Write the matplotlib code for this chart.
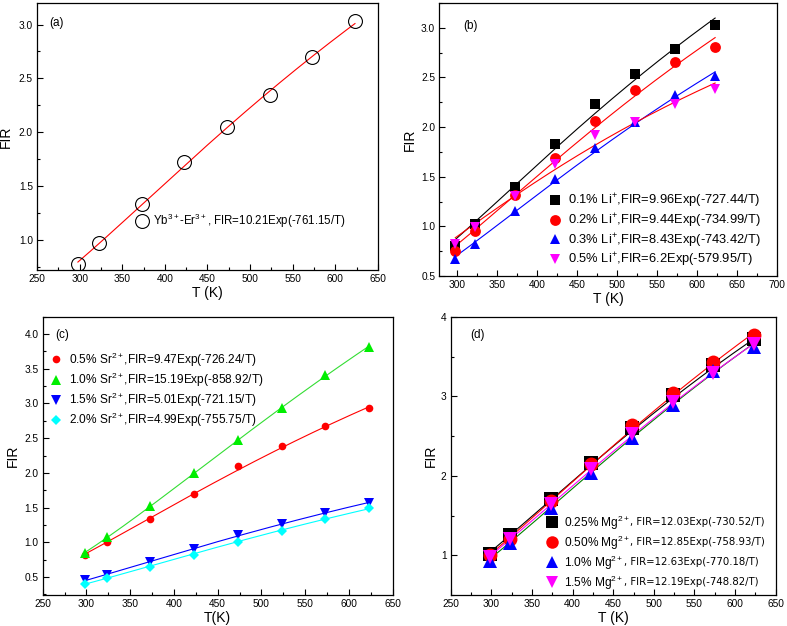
import numpy as np
import matplotlib
matplotlib.use("Agg")
import matplotlib.pyplot as plt
from matplotlib.ticker import MultipleLocator

plt.rcParams['font.family'] = ['Liberation Sans', 'DejaVu Sans']
plt.rcParams['mathtext.fontset'] = 'custom'
plt.rcParams['mathtext.rm'] = 'Liberation Sans'
plt.rcParams['mathtext.it'] = 'Liberation Sans'

# ---------------- data ----------------
T = [298, 323, 373, 423, 473, 523, 573, 623]

# (a)
a_fir = [0.78, 0.97, 1.33, 1.72, 2.05, 2.35, 2.70, 3.03]
a_A, a_B = 10.21, 761.15
a_label = "Yb$^{3+}$-Er$^{3+}$, FIR=10.21Exp(-761.15/T)"

# (b)
b_labels = ["0.1% Li$^{+}$,FIR=9.96Exp(-727.44/T)",
            "0.2% Li$^{+}$,FIR=9.44Exp(-734.99/T)",
            "0.3% Li$^{+}$,FIR=8.43Exp(-743.42/T)",
            "0.5% Li$^{+}$,FIR=6.2Exp(-579.95/T)"]
b_fir = [[0.80, 1.02, 1.40, 1.83, 2.23, 2.53, 2.79, 3.03],
         [0.75, 0.95, 1.32, 1.69, 2.06, 2.37, 2.66, 2.81],
         [0.67, 0.82, 1.15, 1.48, 1.79, 2.05, 2.32, 2.51],
         [0.82, 0.99, 1.31, 1.63, 1.92, 2.05, 2.23, 2.38]]
b_A = [9.96, 9.44, 8.43, 6.2]
b_B = [727.44, 734.99, 743.42, 579.95]

# (c)
c_labels = ["0.5% Sr$^{2+}$,FIR=9.47Exp(-726.24/T)",
            "1.0% Sr$^{2+}$,FIR=15.19Exp(-858.92/T)",
            "1.5% Sr$^{2+}$,FIR=5.01Exp(-721.15/T)",
            "2.0% Sr$^{2+}$,FIR=4.99Exp(-755.75/T)"]
c_fir = [[0.81, 1.00, 1.34, 1.70, 2.10, 2.38, 2.68, 2.93],
         [0.85, 1.07, 1.52, 2.00, 2.48, 2.93, 3.41, 3.82],
         [0.45, 0.53, 0.72, 0.91, 1.10, 1.26, 1.42, 1.57],
         [0.40, 0.48, 0.65, 0.82, 1.00, 1.16, 1.33, 1.49]]
c_A = [9.47, 15.19, 5.01, 4.99]
c_B = [726.24, 858.92, 721.15, 755.75]

# (d)
d_labels = ["0.25% Mg$^{2+}$", "0.50% Mg$^{2+}$", "1.0% Mg$^{2+}$", "1.5% Mg$^{2+}$"]
d_fits = [", FIR=12.03Exp(-730.52/T)", ", FIR=12.85Exp(-758.93/T)",
          ", FIR=12.63Exp(-770.18/T)", ", FIR=12.19Exp(-748.82/T)"]
d_fir = [[1.02, 1.26, 1.71, 2.16, 2.60, 3.02, 3.40, 3.73],
         [1.00, 1.21, 1.68, 2.15, 2.64, 3.05, 3.44, 3.78],
         [0.93, 1.15, 1.59, 2.04, 2.48, 2.89, 3.32, 3.62],
         [0.98, 1.20, 1.65, 2.09, 2.53, 2.93, 3.30, 3.66]]
d_A = [12.03, 12.85, 12.63, 12.19]
d_B = [730.52, 758.93, 770.18, 748.82]

Tf = np.linspace(T[0], T[-1], 200)

def style(ax, xmaj, xmin, ymaj, ymin):
    ax.xaxis.set_major_locator(MultipleLocator(xmaj))
    ax.xaxis.set_minor_locator(MultipleLocator(xmin))
    ax.yaxis.set_major_locator(MultipleLocator(ymaj))
    ax.yaxis.set_minor_locator(MultipleLocator(ymin))
    ax.tick_params(which='both', direction='in', top=False, right=False,
                   labelsize=7.3, pad=3)
    ax.tick_params(which='major', length=4, width=0.8)
    ax.tick_params(which='minor', length=2, width=0.8)
    for s in ax.spines.values():
        s.set_linewidth(0.9)

fig = plt.figure(figsize=(7.87, 6.26), dpi=100)

# ---------- (a) ----------
ax = fig.add_axes([0.047, 0.5687, 0.4333, 0.4265])
ax.plot(Tf, a_A * np.exp(-a_B / Tf), color='red', lw=0.8)
ax.plot(T, a_fir, 'o', mfc='none', mec='black', ms=10, mew=0.8, label=a_label)
ax.set_xlim(250, 650)
ax.set_ylim(0.72, 3.2)
style(ax, 50, 25, 0.5, 0.25)
ax.set_xlabel("T (K)", fontsize=10, labelpad=1)
ax.set_ylabel("FIR", fontsize=10, labelpad=4)
ax.text(0.035, 0.925, "(a)", transform=ax.transAxes, fontsize=8.5, va='center')
ax.legend(loc='center left', bbox_to_anchor=(0.27, 0.185), frameon=False,
          fontsize=8.3, handlelength=1.2, handletextpad=0.4, borderpad=0)

# ---------- (b) ----------
ax = fig.add_axes([0.5582, 0.5591, 0.4287, 0.4361])
b_mk = ['s', 'o', '^', 'v']
b_col = ['black', 'red', 'blue', 'magenta']
b_line = ['black', 'red', 'blue', 'red']
for i in range(4):
    ax.plot(Tf, b_A[i] * np.exp(-b_B[i] / Tf), color=b_line[i], lw=0.8)
for i in range(4):
    ax.plot(T, b_fir[i], b_mk[i], color=b_col[i], ms=7.8, mew=0, label=b_labels[i])
ax.set_xlim(278, 700)
ax.set_ylim(0.5, 3.25)
style(ax, 50, 25, 0.5, 0.25)
ax.set_xlabel("T (K)", fontsize=10, labelpad=1)
ax.set_ylabel("FIR", fontsize=10, labelpad=3)
ax.text(0.07, 0.916, "(b)", transform=ax.transAxes, fontsize=8.5, va='center')
ax.legend(loc='center left', bbox_to_anchor=(0.30, 0.166), frameon=False,
          fontsize=9.3, handlelength=1.2, handletextpad=0.4, borderpad=0,
          labelspacing=0.13)

# ---------- (c) ----------
ax = fig.add_axes([0.0543, 0.0495, 0.4447, 0.4446])
c_mk = ['o', '^', 'v', 'D']
c_col = ['red', '#00ee00', 'blue', 'cyan']
c_line = ['red', '#33dd33', 'blue', 'cyan']
c_ms = [5.5, 6.5, 6.5, 5.5]
for i in range(4):
    ax.plot(Tf, c_A[i] * np.exp(-c_B[i] / Tf), color=c_line[i], lw=0.8)
for i in range(4):
    ax.plot(T, c_fir[i], c_mk[i], color=c_col[i], ms=c_ms[i], mew=0, label=c_labels[i])
ax.set_xlim(250, 650)
ax.set_ylim(0.24, 4.25)
style(ax, 50, 25, 0.5, 0.25)
ax.set_xlabel("T(K)", fontsize=10, labelpad=1)
ax.set_ylabel("FIR", fontsize=10, labelpad=3)
ax.text(0.035, 0.934, "(c)", transform=ax.transAxes, fontsize=8.5, va='center')
ax.legend(loc='center left', bbox_to_anchor=(0.0, 0.737), frameon=False,
          fontsize=8.6, handlelength=1.2, handletextpad=0.5, borderpad=0,
          labelspacing=0.17)

# ---------- (d) ----------
ax = fig.add_axes([0.5727, 0.0495, 0.413, 0.444])
d_mk = ['s', 'o', '^', 'v']
d_col = ['black', 'red', 'blue', 'magenta']
d_line = ['black', 'red', 'green', 'magenta']
for i in range(4):
    ax.plot(Tf, d_A[i] * np.exp(-d_B[i] / Tf), color=d_line[i], lw=0.8)
for i in range(4):
    ax.plot(T, d_fir[i], d_mk[i], color=d_col[i], ms=10, mew=0, label=d_labels[i])
ax.set_xlim(250, 650)
ax.set_ylim(0.5, 4)
style(ax, 50, 25, 1, 0.5)
ax.set_xlabel("T (K)", fontsize=10, labelpad=1)
ax.set_ylabel("FIR", fontsize=10, labelpad=2)
ax.text(0.06, 0.935, "(d)", transform=ax.transAxes, fontsize=8.5, va='center')
leg = ax.legend(loc='center left', bbox_to_anchor=(0.27, 0.153), frameon=False,
                fontsize=8.6, handlelength=1.2, handletextpad=0.4, borderpad=0,
                labelspacing=0.15, markerscale=0.9)
for txt, extra in zip(leg.get_texts(), d_fits):
    ax.annotate(extra, xy=(1, 0.08), xycoords=txt, xytext=(0.5, 2.0),
                textcoords='offset points', fontsize=7.3, va='bottom', ha='left',
                family=['DejaVu Sans'], zorder=20)

fig.savefig("out.png", dpi=100)
